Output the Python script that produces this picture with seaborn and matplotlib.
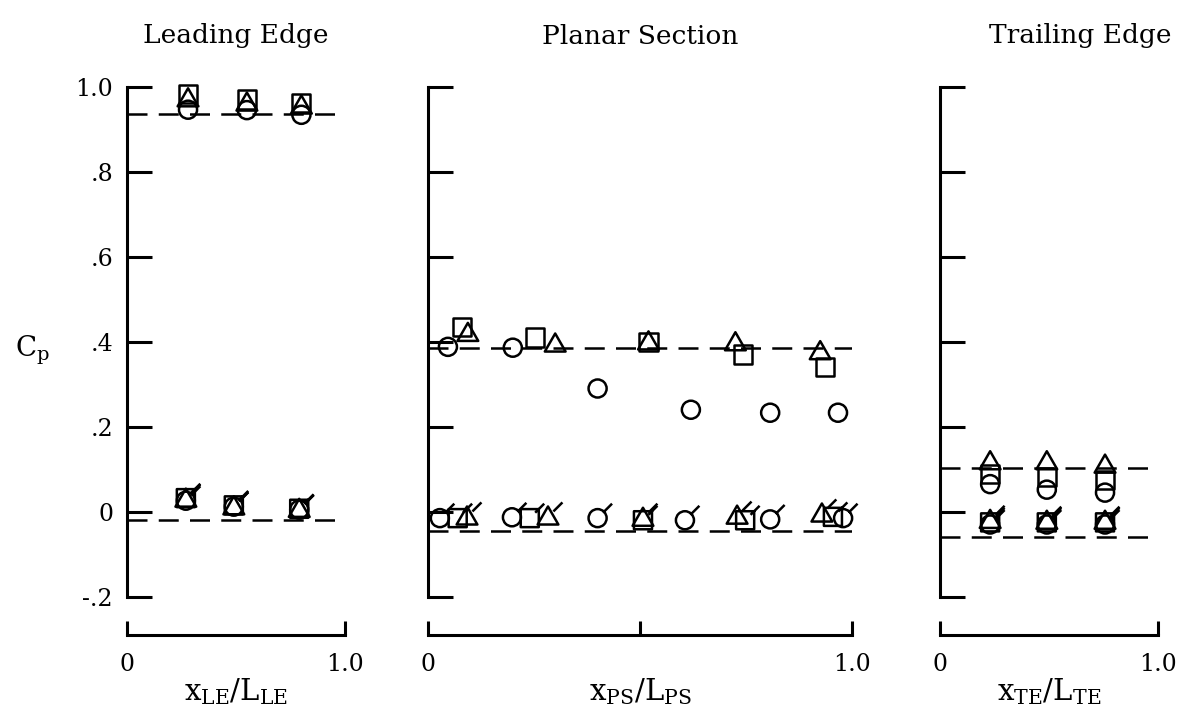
import numpy as np
import pandas as pd
import matplotlib
matplotlib.use("Agg")
import matplotlib.pyplot as plt
from matplotlib.path import Path
import seaborn as sns

# ---------------- data ----------------
panel_titles = ["Leading Edge", "Planar Section", "Trailing Edge"]
x_labels = [r"x$_{\mathrm{LE}}$/L$_{\mathrm{LE}}$",
            r"x$_{\mathrm{PS}}$/L$_{\mathrm{PS}}$",
            r"x$_{\mathrm{TE}}$/L$_{\mathrm{TE}}$"]
y_ticks = [-0.2, 0.0, 0.2, 0.4, 0.6, 0.8, 1.0]
y_tick_labels = ["-.2", "0", ".2", ".4", ".6", ".8", "1.0"]
x_ticks = [0.0, 1.0]
x_tick_labels = ["0", "1.0"]

# Leading edge
le_up_x = [0.28, 0.55, 0.80]
le_circ_up = [0.946, 0.945, 0.934]
le_sq_up = [0.982, 0.970, 0.962]
le_tri_up = [0.972, 0.962, 0.955]
le_lo_x = [0.27, 0.49, 0.79]
le_circ_lo = [0.026, 0.012, 0.005]
le_sq_lo = [0.032, 0.015, 0.007]
le_tri_lo = [0.030, 0.012, 0.006]
le_ref = [0.935, -0.020]

# Planar section
ps_circ_up_x = [0.047, 0.200, 0.400, 0.620, 0.807, 0.967]
ps_circ_up = [0.388, 0.386, 0.290, 0.240, 0.233, 0.233]
ps_sq_up_x = [0.080, 0.252, 0.520, 0.743, 0.936]
ps_sq_up = [0.435, 0.410, 0.400, 0.370, 0.340]
ps_tri_up_x = [0.094, 0.300, 0.520, 0.725, 0.925]
ps_tri_up = [0.420, 0.395, 0.400, 0.398, 0.377]
ps_circ_lo_x = [0.028, 0.198, 0.400, 0.606, 0.807, 0.979]
ps_circ_lo = [-0.015, -0.013, -0.015, -0.020, -0.018, -0.015]
ps_sq_lo_x = [0.070, 0.240, 0.507, 0.748, 0.955]
ps_sq_lo = [-0.015, -0.015, -0.020, -0.020, -0.012]
ps_tri_lo_x = [0.092, 0.283, 0.507, 0.729, 0.929]
ps_tri_lo = [-0.012, -0.012, -0.015, -0.010, -0.005]
ps_ref = [0.385, -0.045]

# Trailing edge
te_x = [0.23, 0.49, 0.757]
te_circ_up = [0.065, 0.052, 0.045]
te_sq_up = [0.088, 0.082, 0.075]
te_tri_up = [0.118, 0.118, 0.110]
te_circ_lo = [-0.030, -0.030, -0.030]
te_sq_lo = [-0.025, -0.025, -0.025]
te_tri_lo = [-0.020, -0.022, -0.022]
te_ref = [0.103, -0.060]

# ---------------- style ----------------
sns.set_style("ticks")
plt.rcParams["font.family"] = ["DejaVu Serif"]
plt.rcParams["mathtext.fontset"] = "dejavuserif"
plt.rcParams["text.color"] = "black"
plt.rcParams["axes.labelcolor"] = "black"
plt.rcParams["xtick.color"] = "black"
plt.rcParams["ytick.color"] = "black"
plt.rcParams["axes.edgecolor"] = "black"

W, H = 1188, 718
fig = plt.figure(figsize=(W / 100, H / 100), dpi=100)

ylo, yhi = -0.29, 1.02
px_per_unit = 425.0
ax_h = (yhi - ylo) * px_per_unit
ax_bottom_px = 635.0
panels_px = [(127, 218), (428, 424), (940, 218)]

# markers
M, L, C = Path.MOVETO, Path.LINETO, Path.CLOSEPOLY
circle_p = Path.unit_circle()
square_p = Path([[-1, -1], [1, -1], [1, 1], [-1, 1], [-1, -1]], [M, L, L, L, C])
tri_p = Path([[0, 1.15], [-1.15, -0.85], [1.15, -0.85], [0, 1.15]], [M, L, L, C])
tail_p = Path([[0.6, 0.6], [1.6, 1.6]], [M, L])


def flagged(p):
    return Path.make_compound_path(p, tail_p)


R_PT = 6.5


def msize(p):
    rescale = np.abs(p.vertices).max()
    return (2 * R_PT * rescale) ** 2


def scatter(ax, xs, ys, p):
    df = pd.DataFrame({"x": xs, "y": ys})
    sns.scatterplot(data=df, x="x", y="y", marker=p, s=msize(p),
                    facecolor="none", edgecolor="black", linewidth=1.8,
                    ax=ax, clip_on=False, legend=False, zorder=3)


def refline(ax, y):
    df = pd.DataFrame({"x": [0.0, 1.0], "y": [y, y]})
    sns.lineplot(data=df, x="x", y="y", ax=ax, color="black", lw=1.8,
                 linestyle=(0, (8, 4.5)), estimator=None, legend=False)


panel_series = [
    [(le_up_x, le_circ_up, circle_p), (le_up_x, le_sq_up, square_p), (le_up_x, le_tri_up, tri_p),
     (le_lo_x, le_circ_lo, flagged(circle_p)), (le_lo_x, le_sq_lo, flagged(square_p)),
     (le_lo_x, le_tri_lo, flagged(tri_p))],
    [(ps_circ_up_x, ps_circ_up, circle_p), (ps_sq_up_x, ps_sq_up, square_p), (ps_tri_up_x, ps_tri_up, tri_p),
     (ps_circ_lo_x, ps_circ_lo, flagged(circle_p)), (ps_sq_lo_x, ps_sq_lo, flagged(square_p)),
     (ps_tri_lo_x, ps_tri_lo, flagged(tri_p))],
    [(te_x, te_circ_up, circle_p), (te_x, te_sq_up, square_p), (te_x, te_tri_up, tri_p),
     (te_x, te_circ_lo, flagged(circle_p)), (te_x, te_sq_lo, flagged(square_p)),
     (te_x, te_tri_lo, flagged(tri_p))],
]
panel_refs = [le_ref, ps_ref, te_ref]
title_px = [236, 640, 1080]

for i, (left, width) in enumerate(panels_px):
    ax = fig.add_axes([left / W, (H - ax_bottom_px) / H, width / W, ax_h / H])
    ax.set_facecolor("none")
    for y in panel_refs[i]:
        refline(ax, y)
    for xs, ys, p in panel_series[i]:
        scatter(ax, xs, ys, p)
    ax.set_xlim(0, 1)
    ax.set_ylim(ylo, yhi)
    for s in ["top", "right"]:
        ax.spines[s].set_visible(False)
    ax.spines["left"].set_bounds(-0.2, 1.0)
    ax.spines["bottom"].set_bounds(0.0, 1.0)
    for s in ["left", "bottom"]:
        ax.spines[s].set_linewidth(2.2)
        ax.spines[s].set_color("black")
    ax.set_yticks(y_ticks)
    if i == 0:
        ax.set_yticklabels(y_tick_labels)
    else:
        ax.set_yticklabels([])
    if i == 1:
        ax.set_xticks([0.0, 0.5, 1.0], ["0", "", "1.0"])
    else:
        ax.set_xticks(x_ticks, x_tick_labels)
    ax.tick_params(axis="y", direction="in", length=18, width=2.2, pad=10, labelsize=17)
    ax.tick_params(axis="x", direction="in", length=10, width=2.2, pad=13, labelsize=17)
    ax.set_xlabel(x_labels[i], fontsize=21, labelpad=0)
    ax.set_ylabel("")
    fig.text(title_px[i] / W, 1 - 36 / H, panel_titles[i], ha="center", va="center", fontsize=19)

fig.text(32 / W, 1 - 350 / H, r"C$_{\mathrm{p}}$", ha="center", va="center", fontsize=20)

fig.savefig("out.png", dpi=100)
